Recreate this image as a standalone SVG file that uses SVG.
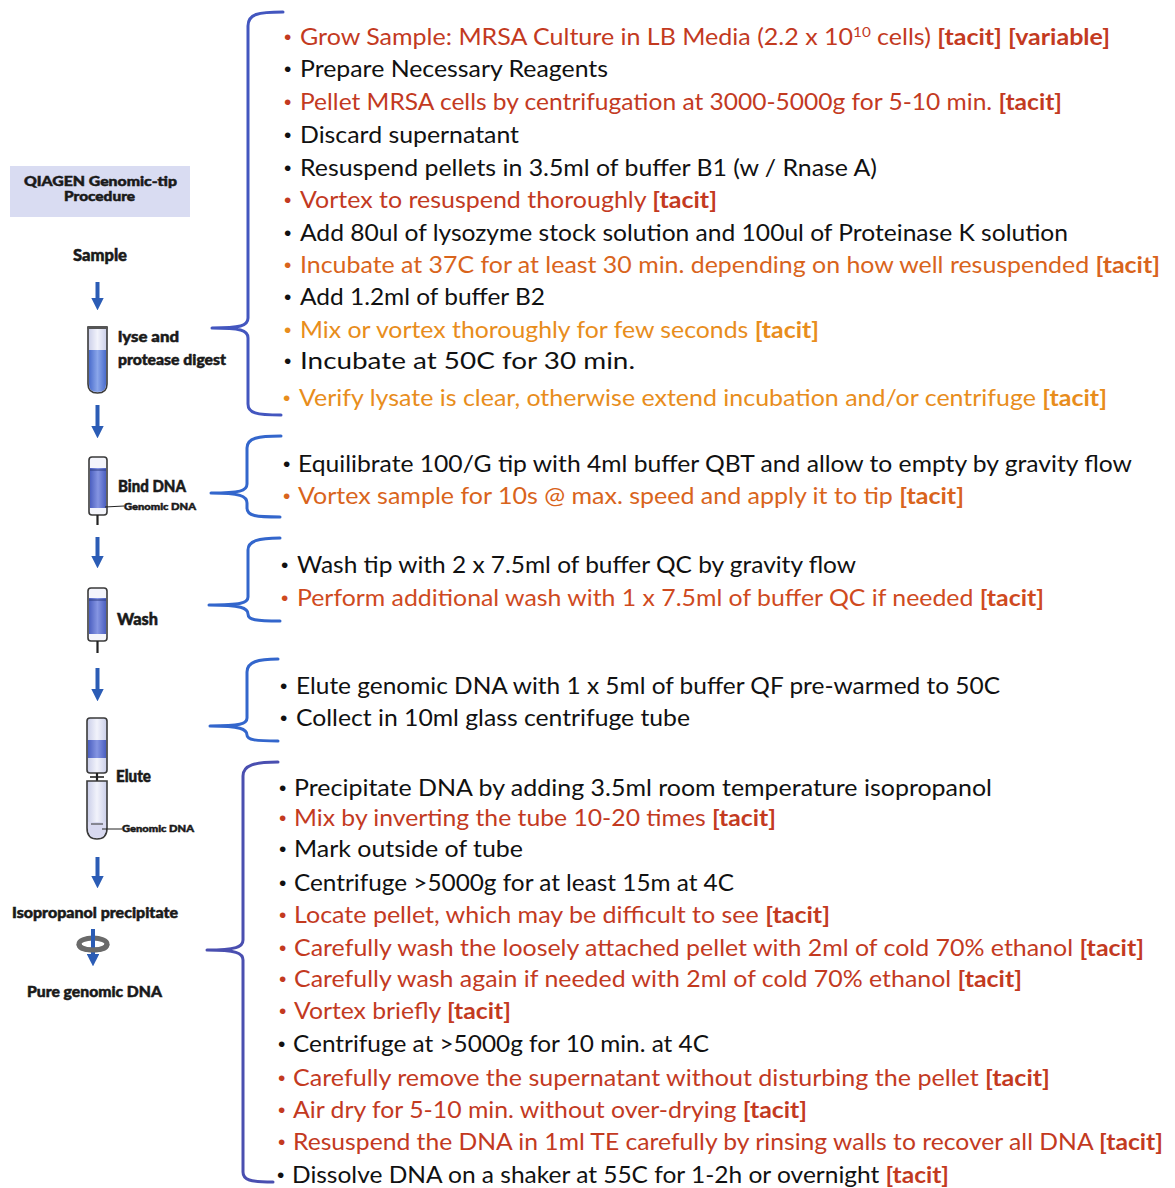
<svg xmlns="http://www.w3.org/2000/svg" width="1175" height="1188" viewBox="0 0 1175 1188">
  <defs>
    <style>
      .t { font-family: Lato, "Open Sans", "Liberation Sans", sans-serif; font-size: 23px; }
      .b { font-family: "Liberation Sans", Arial, sans-serif; font-size: 21px; }
      .tag { font-weight: bold; }
      .k { fill: #111111; }
      .r { fill: #c33a1f; }
      .o1 { fill: #d9641c; }
      .o2 { fill: #e88d1c; }
      .ro { fill: #cf4a1e; }
      .lbl { font-family: Lato, "DejaVu Sans", sans-serif; font-weight: 900; fill: #1a1a1a; stroke: #1a1a1a; stroke-width: 0.5; }
      .brace { fill: none; stroke-width: 3; stroke-linecap: round; stroke-linejoin: round; }
      .arrow { stroke: #2b5cb5; stroke-width: 4; fill: none; }
      .tube { stroke: #3a3a3a; stroke-width: 1.6; }
      .stem { stroke: #222; stroke-width: 2.2; }
    </style>
    <linearGradient id="liquid" x1="0" y1="0" x2="1" y2="0">
      <stop offset="0" stop-color="#4a6ccc"/>
      <stop offset="0.5" stop-color="#8aa6ea"/>
      <stop offset="1" stop-color="#4a6ccc"/>
    </linearGradient>
    <linearGradient id="resin" x1="0" y1="0" x2="1" y2="0">
      <stop offset="0" stop-color="#4b5fc0"/>
      <stop offset="0.5" stop-color="#8595e2"/>
      <stop offset="1" stop-color="#4b5fc0"/>
    </linearGradient>
    <linearGradient id="glass" x1="0" y1="0" x2="1" y2="0">
      <stop offset="0" stop-color="#c9cde8"/>
      <stop offset="0.5" stop-color="#f2f3fb"/>
      <stop offset="1" stop-color="#c9cde8"/>
    </linearGradient>
    <marker id="ah" viewBox="0 0 10 10" refX="5" refY="5" markerWidth="3.2" markerHeight="3.2" orient="auto">
      <path d="M0,0 L10,5 L0,10 Z" fill="#2b5cb5"/>
    </marker>
  </defs>

  <rect width="1175" height="1188" fill="#ffffff"/>

  <!-- Procedure column on the left -->
  <g id="procedure-title">
    <rect x="10" y="166" width="180" height="51" fill="#d9dcf2"/>
    <text class="lbl" x="24" y="186" font-size="13.5" textLength="153" lengthAdjust="spacingAndGlyphs">QIAGEN Genomic-tip</text>
    <text class="lbl" x="64" y="201" font-size="13.5" textLength="71" lengthAdjust="spacingAndGlyphs">Procedure</text>
  </g>

  <g id="step-sample">
    <text class="lbl" x="73" y="261" font-size="16" textLength="54" lengthAdjust="spacingAndGlyphs">Sample</text>
  </g>

  <g id="step-lyse">
    <path class="tube" d="M88,328 L107,328 L107,384 Q107,393 97.5,393 Q88,393 88,384 Z" fill="url(#glass)"/>
    <path d="M89,350 L106,350 L106,384 Q106,392 97.5,392 Q89,392 89,384 Z" fill="url(#liquid)"/>
    <rect x="87" y="326" width="21" height="3" rx="1" fill="#555"/>
    <text class="lbl" x="118" y="342" font-size="15" textLength="61" lengthAdjust="spacingAndGlyphs">lyse and</text>
    <text class="lbl" x="118" y="365" font-size="15" textLength="108" lengthAdjust="spacingAndGlyphs">protease digest</text>
  </g>

  <g id="step-bind">
    <rect class="tube" x="89" y="457" width="18" height="58" rx="3" fill="#f4f5fb"/>
    <rect x="90" y="468" width="16" height="40" fill="url(#resin)"/>
    <line x1="90" y1="470" x2="106" y2="470" stroke="#2a3a80" stroke-width="1"/>
    <line class="stem" x1="97.5" y1="515" x2="97.5" y2="525"/>
    <line x1="105" y1="507" x2="124" y2="506" stroke="#222" stroke-width="1"/>
    <text class="lbl" x="118" y="492" font-size="16" textLength="68" lengthAdjust="spacingAndGlyphs">Bind DNA</text>
    <text class="lbl" x="124" y="510" font-size="10" stroke-width="0.2" textLength="72" lengthAdjust="spacingAndGlyphs">Genomic DNA</text>
  </g>

  <g id="step-wash">
    <rect class="tube" x="88" y="588" width="19" height="53" rx="3" fill="#f4f5fb"/>
    <rect x="89" y="598" width="17" height="36" fill="url(#resin)"/>
    <line x1="89" y1="600" x2="106" y2="600" stroke="#2a3a80" stroke-width="1"/>
    <line class="stem" x1="97.5" y1="641" x2="97.5" y2="653"/>
    <text class="lbl" x="117" y="625" font-size="16" textLength="41" lengthAdjust="spacingAndGlyphs">Wash</text>
  </g>

  <g id="step-elute">
    <rect class="tube" x="87" y="718" width="20" height="55" rx="3" fill="url(#glass)"/>
    <rect x="88" y="740" width="18" height="18" fill="url(#resin)"/>
    <line class="stem" x1="97" y1="773" x2="97" y2="782"/>
    <line x1="90" y1="777" x2="104" y2="777" stroke="#222" stroke-width="1.6"/>
    <path class="tube" d="M87,781 L107,781 L107,828 Q107,839 97,839 Q87,839 87,828 Z" fill="url(#glass)"/>
    <path d="M88,822 L106,822 L106,828 Q106,838 97,838 Q88,838 88,828 Z" fill="#d8d9f0"/>
    <line x1="91" y1="824" x2="103" y2="824" stroke="#333" stroke-width="1"/>
    <line x1="102" y1="829" x2="122" y2="829" stroke="#222" stroke-width="1"/>
    <text class="lbl" x="116" y="782" font-size="16" textLength="35" lengthAdjust="spacingAndGlyphs">Elute</text>
    <text class="lbl" x="122" y="832" font-size="10" stroke-width="0.2" textLength="72" lengthAdjust="spacingAndGlyphs">Genomic DNA</text>
  </g>

  <g id="step-precipitate">
    <text class="lbl" x="12" y="918" font-size="15" textLength="166" lengthAdjust="spacingAndGlyphs">Isopropanol precipitate</text>
    <ellipse cx="93" cy="944" rx="14" ry="6" fill="none" stroke="#6a6a6a" stroke-width="5"/>
    <line class="arrow" x1="93" y1="929" x2="93" y2="960" marker-end="url(#ah)"/>
    <path d="M79,944 Q79,950 93,950 Q107,950 107,944" fill="none" stroke="#6a6a6a" stroke-width="5"/>
  </g>

  <g id="step-pure">
    <text class="lbl" x="27" y="997" font-size="15" textLength="135" lengthAdjust="spacingAndGlyphs">Pure genomic DNA</text>
  </g>

  <!-- Flow arrows and braces -->
  <g id="connectors">
    <line class="arrow" x1="97.5" y1="282" x2="97.5" y2="304" marker-end="url(#ah)"/>
    <line class="arrow" x1="97.5" y1="405" x2="97.5" y2="432" marker-end="url(#ah)"/>
    <line class="arrow" x1="97.5" y1="537" x2="97.5" y2="562" marker-end="url(#ah)"/>
    <line class="arrow" x1="97.5" y1="668" x2="97.5" y2="695" marker-end="url(#ah)"/>
    <line class="arrow" x1="97.5" y1="857" x2="97.5" y2="882" marker-end="url(#ah)"/>

    <path class="brace" stroke="#4356bf" d="M283,12 C258,12 248,14 248,26 L248,318 C248,326 240,328 212,328 C240,328 248,330 248,338 L248,404 C248,413 256,415 281,415"/>
    <path class="brace" stroke="#3366cc" d="M281,436 C258,436 247,438 247,448 L247,484 C247,491 240,493 211,493 C240,493 247,496 247,503 L247,508 C247,516 256,517 280,517"/>
    <path class="brace" stroke="#3366cc" d="M280,538 C258,538 248,541 248,550 L248,597 C248,603 241,605 209,605 C241,605 248,608 248,614 L248,614 C248,620 256,621 280,621"/>
    <path class="brace" stroke="#3366cc" d="M278,659 C258,659 247,662 247,672 L247,718 C247,724 240,726 210,726 C240,726 247,729 247,735 L247,735 C247,740 256,741 278,741"/>
    <path class="brace" stroke="#4a4fb0" d="M278,762 C255,762 243,765 243,776 L243,940 C243,947 236,950 207,950 C236,950 243,953 243,960 L243,1172 C243,1180 250,1182 273,1182"/>
  </g>

  <!-- Protocol steps -->
  <g id="lysis-steps">
    <text class="b r" x="284" y="44">•</text>
    <text class="t r" x="300" y="45" textLength="810" lengthAdjust="spacingAndGlyphs">Grow Sample: MRSA Culture in LB Media (2.2 x 10<tspan font-size="14" dy="-8">10</tspan><tspan dy="8"> cells) </tspan><tspan class="tag">[tacit] [variable]</tspan></text>
    <text class="b k" x="284" y="76">•</text>
    <text class="t k" x="300" y="77" textLength="308" lengthAdjust="spacingAndGlyphs">Prepare Necessary Reagents</text>
    <text class="b r" x="284" y="109">•</text>
    <text class="t r" x="300" y="110" textLength="762" lengthAdjust="spacingAndGlyphs">Pellet MRSA cells by centrifugation at 3000-5000g for 5-10 min. <tspan class="tag">[tacit]</tspan></text>
    <text class="b k" x="284" y="142">•</text>
    <text class="t k" x="300" y="143" textLength="219" lengthAdjust="spacingAndGlyphs">Discard supernatant</text>
    <text class="b k" x="284" y="175">•</text>
    <text class="t k" x="300" y="176" textLength="577" lengthAdjust="spacingAndGlyphs">Resuspend pellets in 3.5ml of buffer B1 (w / Rnase A)</text>
    <text class="b r" x="284" y="207">•</text>
    <text class="t r" x="300" y="208" textLength="417" lengthAdjust="spacingAndGlyphs">Vortex to resuspend thoroughly <tspan class="tag">[tacit]</tspan></text>
    <text class="b k" x="284" y="240">•</text>
    <text class="t k" x="300" y="241" textLength="768" lengthAdjust="spacingAndGlyphs">Add 80ul of lysozyme stock solution and 100ul of Proteinase K solution</text>
    <text class="b o1" x="284" y="272">•</text>
    <text class="t o1" x="300" y="273" textLength="860" lengthAdjust="spacingAndGlyphs">Incubate at 37C for at least 30 min. depending on how well resuspended <tspan class="tag">[tacit]</tspan></text>
    <text class="b k" x="284" y="304">•</text>
    <text class="t k" x="300" y="305" textLength="245" lengthAdjust="spacingAndGlyphs">Add 1.2ml of buffer B2</text>
    <text class="b o2" x="284" y="337">•</text>
    <text class="t o2" x="300" y="338" textLength="519" lengthAdjust="spacingAndGlyphs">Mix or vortex thoroughly for few seconds <tspan class="tag">[tacit]</tspan></text>
    <text class="b k" x="284" y="368">•</text>
    <text class="t k" x="300" y="369" textLength="335" lengthAdjust="spacingAndGlyphs">Incubate at 50C for 30 min.</text>
    <text class="b o2" x="283" y="405">•</text>
    <text class="t o2" x="299" y="406" textLength="808" lengthAdjust="spacingAndGlyphs">Verify lysate is clear, otherwise extend incubation and/or centrifuge <tspan class="tag">[tacit]</tspan></text>
  </g>

  <g id="bind-steps">
    <text class="b k" x="283" y="471">•</text>
    <text class="t k" x="298" y="472" textLength="834" lengthAdjust="spacingAndGlyphs">Equilibrate 100/G tip with 4ml buffer QBT and allow to empty by gravity flow</text>
    <text class="b o1" x="283" y="503">•</text>
    <text class="t o1" x="298" y="504" textLength="666" lengthAdjust="spacingAndGlyphs">Vortex sample for 10s @ max. speed and apply it to tip <tspan class="tag">[tacit]</tspan></text>
  </g>

  <g id="wash-steps">
    <text class="b k" x="281" y="572">•</text>
    <text class="t k" x="297" y="573" textLength="559" lengthAdjust="spacingAndGlyphs">Wash tip with 2 x 7.5ml of buffer QC by gravity flow</text>
    <text class="b ro" x="281" y="605">•</text>
    <text class="t ro" x="297" y="606" textLength="747" lengthAdjust="spacingAndGlyphs">Perform additional wash with 1 x 7.5ml of buffer QC if needed <tspan class="tag">[tacit]</tspan></text>
  </g>

  <g id="elute-steps">
    <text class="b k" x="280" y="693">•</text>
    <text class="t k" x="296" y="694" textLength="704" lengthAdjust="spacingAndGlyphs">Elute genomic DNA with 1 x 5ml of buffer QF pre-warmed to 50C</text>
    <text class="b k" x="280" y="725">•</text>
    <text class="t k" x="296" y="726" textLength="394" lengthAdjust="spacingAndGlyphs">Collect in 10ml glass centrifuge tube</text>
  </g>

  <g id="precipitate-steps">
    <text class="b k" x="279" y="795">•</text>
    <text class="t k" x="294" y="796" textLength="698" lengthAdjust="spacingAndGlyphs">Precipitate DNA by adding 3.5ml room temperature isopropanol</text>
    <text class="b r" x="279" y="825">•</text>
    <text class="t r" x="294" y="826" textLength="482" lengthAdjust="spacingAndGlyphs">Mix by inverting the tube 10-20 times <tspan class="tag">[tacit]</tspan></text>
    <text class="b k" x="279" y="856">•</text>
    <text class="t k" x="294" y="857" textLength="229" lengthAdjust="spacingAndGlyphs">Mark outside of tube</text>
    <text class="b k" x="279" y="890">•</text>
    <text class="t k" x="294" y="891" textLength="440" lengthAdjust="spacingAndGlyphs">Centrifuge &gt;5000g for at least 15m at 4C</text>
    <text class="b r" x="279" y="922">•</text>
    <text class="t r" x="294" y="923" textLength="536" lengthAdjust="spacingAndGlyphs">Locate pellet, which may be difficult to see <tspan class="tag">[tacit]</tspan></text>
    <text class="b r" x="279" y="955">•</text>
    <text class="t r" x="294" y="956" textLength="850" lengthAdjust="spacingAndGlyphs">Carefully wash the loosely attached pellet with 2ml of cold 70% ethanol <tspan class="tag">[tacit]</tspan></text>
    <text class="b r" x="279" y="986">•</text>
    <text class="t r" x="294" y="987" textLength="728" lengthAdjust="spacingAndGlyphs">Carefully wash again if needed with 2ml of cold 70% ethanol <tspan class="tag">[tacit]</tspan></text>
    <text class="b r" x="279" y="1018">•</text>
    <text class="t r" x="294" y="1019" textLength="217" lengthAdjust="spacingAndGlyphs">Vortex briefly <tspan class="tag">[tacit]</tspan></text>
    <text class="b k" x="278" y="1051">•</text>
    <text class="t k" x="293" y="1052" textLength="416" lengthAdjust="spacingAndGlyphs">Centrifuge at &gt;5000g for 10 min. at 4C</text>
    <text class="b r" x="278" y="1085">•</text>
    <text class="t r" x="293" y="1086" textLength="757" lengthAdjust="spacingAndGlyphs">Carefully remove the supernatant without disturbing the pellet <tspan class="tag">[tacit]</tspan></text>
    <text class="b r" x="278" y="1117">•</text>
    <text class="t r" x="293" y="1118" textLength="514" lengthAdjust="spacingAndGlyphs">Air dry for 5-10 min. without over-drying <tspan class="tag">[tacit]</tspan></text>
    <text class="b r" x="278" y="1149">•</text>
    <text class="t r" x="293" y="1150" textLength="870" lengthAdjust="spacingAndGlyphs">Resuspend the DNA in 1ml TE carefully by rinsing walls to recover all DNA <tspan class="tag">[tacit]</tspan></text>
    <text class="b k" x="277" y="1182">•</text>
    <text class="t k" x="292" y="1183" textLength="657" lengthAdjust="spacingAndGlyphs">Dissolve DNA on a shaker at 55C for 1-2h or overnight <tspan class="tag r">[tacit]</tspan></text>
  </g>
</svg>
